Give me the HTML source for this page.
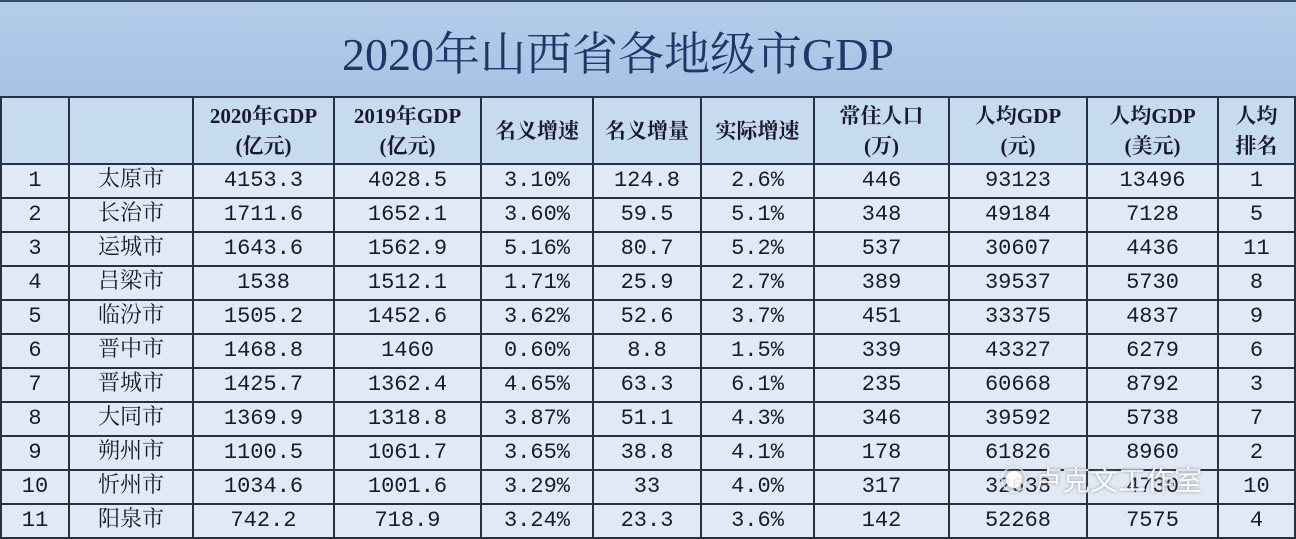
<!DOCTYPE html>
<html><head><meta charset="utf-8">
<style>
body{margin:0;width:1296px;height:536px;overflow:hidden;background:#dde8f5;font-family:"Liberation Serif","Noto Serif CJK SC",serif;color:#1a1a2a;}
#title{position:absolute;left:0;top:0;width:1296px;height:96px;background:linear-gradient(#b3cdea,#a5c3e4);border-top:2px solid #3a4a60;box-sizing:border-box;}
#title span{position:absolute;left:-30px;width:1296px;top:16px;text-align:center;font-size:46px;color:#1d3868;font-family:"Liberation Serif","Noto Serif CJK SC",serif;}
table{position:absolute;left:0;top:96px;border-collapse:collapse;table-layout:fixed;}
td{border:2px solid #2a3040;padding:0;text-align:center;font-size:22px;height:32px;line-height:30px;background:#e0eaf6;white-space:nowrap;overflow:hidden;font-family:"Liberation Mono","Noto Serif CJK SC",monospace;}
tr.h td{height:65px;background:#c6dbf0;font-weight:bold;line-height:30px;font-size:21px;font-family:"Liberation Serif","Noto Serif CJK SC",serif;}
</style></head><body>
<div id="title"><span>2020年山西省各地级市GDP</span></div>
<table>
<colgroup><col style="width:68px"><col style="width:124px"><col style="width:141px"><col style="width:147px"><col style="width:112px"><col style="width:108px"><col style="width:113px"><col style="width:135px"><col style="width:138px"><col style="width:131px"><col style="width:77px"></colgroup>
<tr class="h"><td></td><td></td><td>2020年GDP<br>(亿元)</td><td>2019年GDP<br>(亿元)</td><td>名义增速</td><td>名义增量</td><td>实际增速</td><td>常住人口<br>(万)</td><td>人均GDP<br>(元)</td><td>人均GDP<br>(美元)</td><td>人均<br>排名</td></tr>
<tr><td>1</td><td>太原市</td><td>4153.3</td><td>4028.5</td><td>3.10%</td><td>124.8</td><td>2.6%</td><td>446</td><td>93123</td><td>13496</td><td>1</td></tr>
<tr><td>2</td><td>长治市</td><td>1711.6</td><td>1652.1</td><td>3.60%</td><td>59.5</td><td>5.1%</td><td>348</td><td>49184</td><td>7128</td><td>5</td></tr>
<tr><td>3</td><td>运城市</td><td>1643.6</td><td>1562.9</td><td>5.16%</td><td>80.7</td><td>5.2%</td><td>537</td><td>30607</td><td>4436</td><td>11</td></tr>
<tr><td>4</td><td>吕梁市</td><td>1538</td><td>1512.1</td><td>1.71%</td><td>25.9</td><td>2.7%</td><td>389</td><td>39537</td><td>5730</td><td>8</td></tr>
<tr><td>5</td><td>临汾市</td><td>1505.2</td><td>1452.6</td><td>3.62%</td><td>52.6</td><td>3.7%</td><td>451</td><td>33375</td><td>4837</td><td>9</td></tr>
<tr><td>6</td><td>晋中市</td><td>1468.8</td><td>1460</td><td>0.60%</td><td>8.8</td><td>1.5%</td><td>339</td><td>43327</td><td>6279</td><td>6</td></tr>
<tr><td>7</td><td>晋城市</td><td>1425.7</td><td>1362.4</td><td>4.65%</td><td>63.3</td><td>6.1%</td><td>235</td><td>60668</td><td>8792</td><td>3</td></tr>
<tr><td>8</td><td>大同市</td><td>1369.9</td><td>1318.8</td><td>3.87%</td><td>51.1</td><td>4.3%</td><td>346</td><td>39592</td><td>5738</td><td>7</td></tr>
<tr><td>9</td><td>朔州市</td><td>1100.5</td><td>1061.7</td><td>3.65%</td><td>38.8</td><td>4.1%</td><td>178</td><td>61826</td><td>8960</td><td>2</td></tr>
<tr><td>10</td><td>忻州市</td><td>1034.6</td><td>1001.6</td><td>3.29%</td><td>33</td><td>4.0%</td><td>317</td><td>32638</td><td>4730</td><td>10</td></tr>
<tr><td>11</td><td>阳泉市</td><td>742.2</td><td>718.9</td><td>3.24%</td><td>23.3</td><td>3.6%</td><td>142</td><td>52268</td><td>7575</td><td>4</td></tr>
</table>
<div style="position:absolute;left:1000px;top:462px;width:260px;height:34px;color:#fff;font-family:'Noto Sans CJK SC',sans-serif;font-size:28px;line-height:34px;text-shadow:0 0 3px #888;opacity:.9">◉ 卢克文工作室</div>
</body></html>
